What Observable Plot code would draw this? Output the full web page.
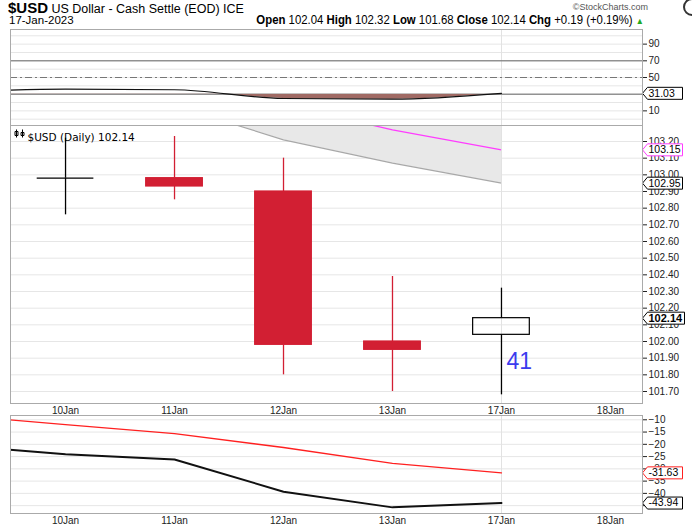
<!DOCTYPE html>
<html><head><meta charset="utf-8">
<script src="https://cdn.jsdelivr.net/npm/d3@7"></script>
<script src="https://cdn.jsdelivr.net/npm/@observablehq/plot@0.6"></script>
<style>
body{margin:0;background:#fff;width:692px;height:528px;overflow:hidden;font-family:"Liberation Sans",Arial,sans-serif;}
#hdr{position:relative;height:29px;width:692px;overflow:hidden;}
.nar{font-family:"Liberation Sans Narrow","Arial Narrow","Liberation Sans",sans-serif;white-space:nowrap;position:absolute;}
svg{display:block;}
</style></head><body>
<div id="hdr"></div>
<div id="top"></div><div id="main"></div><div id="bot"></div>
<script>
// ---- data ----
const tickDays = ["10Jan","11Jan","12Jan","13Jan","17Jan","18Jan"];   // x index 0..5
const lineDays = ["9Jan","10Jan","11Jan","12Jan","13Jan","17Jan"];    // x index -1..4
const candleDays = ["10Jan","11Jan","12Jan","13Jan","17Jan"];
const open  = [102.98, 102.98, 102.90, 102.00, 102.04];
const high  = [103.22, 103.23, 103.10, 102.39, 102.32];
const low   = [102.76, 102.85, 101.80, 101.70, 101.68];
const close = [102.98, 102.93, 101.98, 101.95, 102.14];
const bandDays = ["11Jan","12Jan","13Jan","17Jan"];
const bandLower = [103.415, 103.21, 103.07, 102.95];
const maDays = ["12Jan","13Jan","17Jan"];
const maValues = [103.42, 103.27, 103.15];
const rsi = [32.8, 36.0, 35.3, 24.8, 24.0, 31.03];
const ppo = [-20.5, -24.0, -26.2, -39.3, -45.7, -43.94];
const ppoSignal = [-8.2, -12.0, -15.6, -21.3, -27.8, -31.63];
const annotations = [{day: "17Jan", price: 101.88, label: "41"}];
const rsiTicks = [10, 50, 70, 90];
const priceTicks = [101.7, 101.8, 101.9, 102.0, 102.1, 102.2, 102.3, 102.4, 102.5, 102.6, 102.7, 102.8, 102.9, 103.0, 103.1, 103.2];
const ppoTicks = [-45, -40, -35, -30, -25, -20, -15, -10];
const symbolName = "$USD", symbolDesc = "US Dollar - Cash Settle (EOD) ICE", dateLabel = "17-Jan-2023";

// ---- helpers ----
const dayIndex = d => tickDays.indexOf(d) >= 0 ? tickDays.indexOf(d) : lineDays.indexOf(d) - 1;
const W = 692, ML = 10, MR = 50;
const xDomain = [-0.505, 5.294];
const RED = "#d21f33";
const FONT = "'Liberation Sans', Arial, sans-serif";

const candles = candleDays.map((d, k) => ({i: dayIndex(d), open: open[k], high: high[k], low: low[k], close: close[k]}));
const band = bandDays.map((d, k) => ({i: dayIndex(d), v: bandLower[k]}));
const ma = maDays.map((d, k) => ({i: dayIndex(d), v: maValues[k]}));
const rsiData = lineDays.map((d, k) => ({i: dayIndex(d), v: rsi[k]}));
const ppoData = lineDays.map((d, k) => ({i: dayIndex(d), v: ppo[k]}));
const sigData = lineDays.map((d, k) => ({i: dayIndex(d), v: ppoSignal[k]}));
const ann = annotations.map(a => ({i: dayIndex(a.day), v: a.price, t: a.label}));

function tagSymbol(w) {
  return {draw(ctx) { ctx.moveTo(0, 0); ctx.lineTo(5, -6); ctx.lineTo(w, -6); ctx.lineTo(w, 6); ctx.lineTo(5, 6); ctx.closePath(); }};
}
function tags(values, stroke, bold) {
  const data = values.map(v => ({v}));
  return [
    Plot.dot(data, {y: "v", frameAnchor: "right", symbol: tagSymbol(bold ? 42 : 40), r: 1, fill: "white", stroke, strokeWidth: 1}),
    Plot.text(data, {y: "v", frameAnchor: "right", text: d => d.v.toFixed(2), dx: 6, textAnchor: "start", fill: "#000", fontWeight: bold ? "bold" : "normal", fontSize: bold ? 11 : 10.5})
  ];
}
const candleIcon = {draw(ctx) {
  ctx.moveTo(-3, -4); ctx.lineTo(-3, 4); ctx.moveTo(3, -4); ctx.lineTo(3, 4);
  ctx.rect(-4.5, -2, 3, 4); ctx.rect(1.5, -1, 3, 3);
}};

function clipBelow(level) {
  return (index, scales, values, dims, context, next) => {
    const g = next(index, scales, values, dims, context);
    const ns = "http://www.w3.org/2000/svg";
    const wrap = document.createElementNS(ns, "g");
    const cp = document.createElementNS(ns, "clipPath");
    cp.setAttribute("id", "clipbelow");
    const r = document.createElementNS(ns, "rect");
    const y0 = scales.y(level);
    r.setAttribute("x", dims.marginLeft); r.setAttribute("y", y0);
    r.setAttribute("width", dims.width - dims.marginLeft - dims.marginRight);
    r.setAttribute("height", dims.height - dims.marginBottom - y0);
    cp.appendChild(r); wrap.appendChild(cp); wrap.appendChild(g);
    wrap.setAttribute("clip-path", "url(#clipbelow)");
    return wrap;
  };
}
const style = {fontFamily: FONT, fontSize: "10px", color: "#222", background: "white", overflow: "visible"};

// ---- header ----
const last = candles[candles.length - 1], prev = candles[candles.length - 2];
const chg = last.close - prev.close;
const hdr = document.getElementById("hdr");
hdr.innerHTML = `
<div class="nar" style="left:8px;top:-1px;font-size:12.5px;"><b style="font-size:15px">${symbolName}</b> ${symbolDesc}</div>
<div class="nar" style="left:9px;top:14px;font-size:11.5px;">${dateLabel}</div>
<div style="position:absolute;right:44px;top:2px;font-size:9px;color:#555;white-space:nowrap;">©StockCharts.com</div>
<div class="nar" style="right:48px;top:13px;font-size:12.5px;transform:scaleX(0.91);transform-origin:right center;"><b>Open</b> ${last.open.toFixed(2)} <b>High</b> ${last.high.toFixed(2)} <b>Low</b> ${last.low.toFixed(2)} <b>Close</b> ${last.close.toFixed(2)} <b>Chg</b> ${chg >= 0 ? "+" : ""}${chg.toFixed(2)} (${chg >= 0 ? "+" : ""}${(chg / prev.close * 100).toFixed(2)}%) <span style="color:#2a2;font-size:9px">▲</span></div>
<div style="position:absolute;left:683px;top:-2px;width:14px;height:14px;border:2px solid #333;border-radius:50%;"></div>`;

// ---- RSI panel ----
const topPlot = Plot.plot({
  width: W, height: 96, marginLeft: ML, marginRight: MR, marginTop: 0, marginBottom: 0, style,
  x: {domain: xDomain, axis: null, label: null},
  y: {domain: [-7.55, 107.55], axis: null, label: null},
  marks: [
    Plot.ruleY(d3.range(0, 101, 10), {stroke: "#e6e6e6"}),
    Plot.ruleX([dayIndex("17Jan")], {stroke: "#e2e2e2"}),
    Plot.ruleY([70, 30], {stroke: "#666"}),
    Plot.ruleY([50], {stroke: "#777", strokeDasharray: "7,3,2,3"}),
    Plot.areaY(rsiData, {x: "i", y1: 30, y2: "v", fill: "#a06a64", curve: "monotone-x", render: clipBelow(30)}),
    Plot.lineY(rsiData, {x: "i", y: "v", stroke: "#111", strokeWidth: 1.2, curve: "monotone-x", clip: true}),
    Plot.axisY({anchor: "right", label: null, ticks: rsiTicks, tickSize: 4, tickPadding: 2, tickFormat: d3.format("d")}),
    ...tags([rsi[rsi.length - 1]], "#000", false),
    Plot.frame({stroke: "#aaa"})
  ]
});
document.getElementById("top").append(topPlot);

// ---- price panel ----
const yMain = [101.628, 103.296];
const up = d => d.close >= d.open;
const mainPlot = Plot.plot({
  width: W, height: 290, marginLeft: ML, marginRight: MR, marginTop: 0, marginBottom: 12, style,
  x: {domain: xDomain, axis: null, label: null},
  y: {domain: yMain, axis: null, label: null},
  marks: [
    Plot.ruleY(priceTicks, {stroke: "#e6e6e6"}),
    Plot.areaY(band, {x: "i", y1: "v", y2: yMain[1], fill: "#e8e8e8", clip: true}),
    Plot.lineY(band, {x: "i", y: "v", stroke: "#a8a8a8", strokeWidth: 1.2, clip: true}),
    Plot.lineY(ma, {x: "i", y: "v", stroke: "#ff3cff", strokeWidth: 1.3, clip: true}),
    Plot.ruleX([dayIndex("17Jan")], {stroke: "#e2e2e2"}),
    Plot.ruleX(candles, {x: "i", y1: "high", y2: d => Math.max(d.open, d.close), stroke: d => up(d) ? "#000" : RED, strokeWidth: 1.3}),
    Plot.ruleX(candles, {x: "i", y1: d => Math.min(d.open, d.close), y2: "low", stroke: d => up(d) ? "#000" : RED, strokeWidth: 1.3}),
    Plot.rect(candles.filter(d => d.open !== d.close), {x1: d => d.i - 0.26, x2: d => d.i + 0.26, y1: "open", y2: "close", fill: d => up(d) ? "none" : RED, stroke: d => up(d) ? "#000" : RED, strokeWidth: 1.2}),
    Plot.ruleY(candles.filter(d => d.open === d.close), {y: "close", x1: d => d.i - 0.26, x2: d => d.i + 0.26, stroke: "#000", strokeWidth: 1.3}),
    Plot.text(ann, {x: "i", y: "v", text: "t", dx: 5, textAnchor: "start", fontSize: 23, fill: "#3b3bee", fontFamily: FONT}),
    Plot.dot([0], {frameAnchor: "top-left", dx: 9, dy: 8, symbol: candleIcon, r: 1, stroke: "#000", strokeWidth: 1, fill: "none"}),
    Plot.text([`${symbolName} (Daily) ${last.close.toFixed(2)}`], {frameAnchor: "top-left", dx: 17, dy: 8, textAnchor: "start", fontFamily: "'DejaVu Sans', sans-serif", fontSize: 10.5, fill: "#000"}),
    Plot.axisY({anchor: "right", label: null, ticks: priceTicks, tickSize: 4, tickPadding: 2, tickFormat: d3.format(".2f")}),
    Plot.axisX({label: null, ticks: d3.range(0, 6), tickFormat: i => tickDays[i], tickSize: 0, tickPadding: 3}),
    ...tags([maValues[maValues.length - 1]], "#ff3cff", false),
    ...tags([bandLower[bandLower.length - 1]], "#000", false),
    ...tags([last.close], "#000", true),
    Plot.frame({stroke: "#aaa"})
  ]
});
document.getElementById("main").append(mainPlot);

// ---- PPO panel ----
const botPlot = Plot.plot({
  width: W, height: 113, marginLeft: ML, marginRight: MR, marginTop: 0, marginBottom: 15, style,
  x: {domain: xDomain, axis: null, label: null},
  y: {domain: [-48.2, -8.25], axis: null, label: null},
  marks: [
    Plot.ruleY(ppoTicks, {stroke: "#e6e6e6"}),
    Plot.ruleX([dayIndex("17Jan")], {stroke: "#e2e2e2"}),
    Plot.lineY(sigData, {x: "i", y: "v", stroke: "#ff2020", strokeWidth: 1.3, clip: true}),
    Plot.lineY(ppoData, {x: "i", y: "v", stroke: "#111", strokeWidth: 2, clip: true}),
    Plot.axisY({anchor: "right", label: null, ticks: ppoTicks, tickSize: 4, tickPadding: 2, tickFormat: d3.format("d")}),
    Plot.axisX({label: null, ticks: d3.range(0, 6), tickFormat: i => tickDays[i], tickSize: 0, tickPadding: 3}),
    ...tags([ppoSignal[ppoSignal.length - 1]], "#ff2020", false),
    ...tags([ppo[ppo.length - 1]], "#000", false),
    Plot.frame({stroke: "#aaa"})
  ]
});
document.getElementById("bot").append(botPlot);
</script>
</body></html>
